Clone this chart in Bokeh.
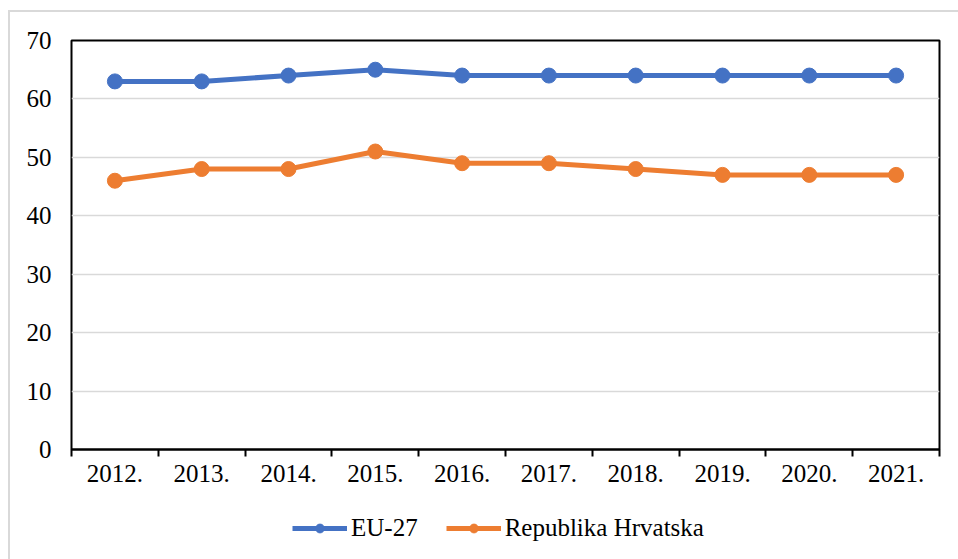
from bokeh.plotting import figure
from bokeh.layouts import column
from bokeh.models import FixedTicker, Range1d, Legend, LegendItem
from bokeh.embed import file_html
from bokeh.resources import INLINE

years = ["2012.", "2013.", "2014.", "2015.", "2016.", "2017.", "2018.", "2019.", "2020.", "2021."]
eu27 = [63, 63, 64, 65, 64, 64, 64, 64, 64, 64]
hrvatska = [46, 48, 48, 51, 49, 49, 48, 47, 47, 47]
y_ticks = [0, 10, 20, 30, 40, 50, 60, 70]
series_names = ["EU-27", "Republika Hrvatska"]

BLUE = "#4472C4"
ORANGE = "#ED7D31"
FONT = "Liberation Serif"
FS = "25px"

xs = [i + 0.5 for i in range(len(years))]

p = figure(output_backend="svg", toolbar_location=None,
           width=948, height=487,
           frame_width=868, frame_height=409,
           x_range=Range1d(0, len(years)), y_range=Range1d(0, 70),
           min_border_left=61, min_border_top=28, min_border_right=19, min_border_bottom=50)

p.outline_line_color = "black"
p.outline_line_width = 2
p.background_fill_color = "white"
p.border_fill_color = "white"

# x axis
xa = p.xaxis[0]
xa.ticker = FixedTicker(ticks=xs, minor_ticks=list(range(len(years) + 1)))
xa.major_label_overrides = {x: y for x, y in zip(xs, years)}
xa.major_tick_line_color = None
xa.major_tick_in = 0
xa.major_tick_out = 6
xa.minor_tick_line_color = "black"
xa.minor_tick_line_width = 2
xa.minor_tick_in = 0
xa.minor_tick_out = 7
xa.axis_line_color = "black"
xa.axis_line_width = 2
xa.major_label_text_font = FONT
xa.major_label_text_font_size = FS
xa.major_label_text_color = "black"
xa.major_label_standoff = 8
p.xgrid.grid_line_color = None

# y axis
ya = p.yaxis[0]
ya.ticker = FixedTicker(ticks=y_ticks)
ya.major_tick_line_color = None
ya.minor_tick_line_color = None
ya.axis_line_color = None
ya.major_label_text_font = FONT
ya.major_label_text_font_size = FS
ya.major_label_text_color = "black"
ya.major_label_standoff = 14
p.ygrid.ticker = FixedTicker(ticks=y_ticks)
p.ygrid.grid_line_color = "#d9d9d9"
p.ygrid.grid_line_width = 1.5

p.line(xs, eu27, line_color=BLUE, line_width=5)
p.scatter(xs, eu27, size=15, fill_color=BLUE, line_color=BLUE)
p.line(xs, hrvatska, line_color=ORANGE, line_width=5)
p.scatter(xs, hrvatska, size=15, fill_color=ORANGE, line_color=ORANGE)

# legend strip below the chart (series drawn out of view; only legend shows)
lg = figure(output_backend="svg", toolbar_location=None,
            width=948, height=60,
            x_range=Range1d(-100, -99), y_range=Range1d(-100, -99),
            min_border_left=0, min_border_right=0, min_border_top=0, min_border_bottom=0,
            x_axis_type=None, y_axis_type=None)
lg.grid.visible = False
lg.outline_line_color = None
lg.background_fill_color = "white"
lg.border_fill_color = "white"

items = []
for name, color, vals in zip(series_names, [BLUE, ORANGE], [eu27, hrvatska]):
    r1 = lg.line(xs, vals, line_color=color, line_width=5)
    r2 = lg.scatter(xs, vals, size=15, fill_color=color, line_color=color)
    items.append(LegendItem(label=name, renderers=[r1, r2]))

legend = Legend(items=items, orientation="horizontal", location=(221, 17))
legend.label_text_font = FONT
legend.label_text_font_size = FS
legend.label_text_color = "black"
legend.glyph_width = 55
legend.glyph_height = 22
legend.label_standoff = 4
legend.spacing = 28
legend.border_line_color = None
legend.background_fill_alpha = 0
legend.margin = 0
legend.padding = 4
lg.add_layout(legend)

layout = column(p, lg, spacing=0)
layout.styles = {"margin-left": "8px", "margin-top": "10px",
                 "border-left": "2px solid #d9d9d9", "border-top": "2px solid #d9d9d9"}

open("out.html", "w").write(file_html(layout, INLINE))
